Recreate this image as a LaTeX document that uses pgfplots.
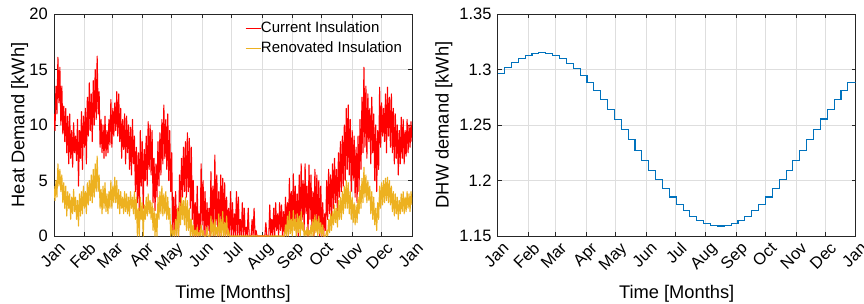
\documentclass[border=0pt]{standalone}
\usepackage{fontspec}
\setmainfont{Liberation Sans}
\usepackage{pgfplots}
\pgfplotsset{compat=1.18}
\definecolor{mred}{rgb}{1,0,0}
\definecolor{myel}{rgb}{0.929,0.694,0.125}
\definecolor{mblue}{rgb}{0,0.447,0.741}
\definecolor{axgray}{rgb}{0.15,0.15,0.15}
\pgfplotsset{
  mstyle/.style={
    scale only axis, width=358bp, height=222bp,
    xmin=0, xmax=365,
    xtick={0,31,59,90,120,151,181,212,243,273,304,334,365},
    xticklabels={Jan,Feb,Mar,Apr,May,Jun,Jul,Aug,Sep,Oct,Nov,Dec,Jan},
    tick label style={font=\fontsize{16.5bp}{18bp}\selectfont},
    /pgf/number format/assume math mode=true,
    xticklabel style={xshift=4bp, yshift=-5bp, rotate=45, anchor=north east, inner sep=0pt},
    yticklabel style={anchor=east, inner sep=0pt, xshift=-6bp},
    label style={font=\fontsize{18.3bp}{20bp}\selectfont},
    xlabel={Time [Months]},
    xlabel style={at={(axis description cs:0.5,-0.2793)}, anchor=base, inner sep=0pt},
    grid=major,
    major grid style={color=black!13, line width=0.6bp},
    tick align=inside, tick pos=both,
    major tick length=4bp,
    tick style={color=axgray, line width=0.6bp},
    axis line style={color=axgray, line width=0.6bp},
  }
}
\begin{document}
\begin{tikzpicture}
\useasboundingbox (-54bp,-68bp) rectangle (810bp,236bp);
\begin{axis}[mstyle,
  ymin=0, ymax=20, ytick={0,5,10,15,20},
  ylabel={Heat Demand [kWh]},
  ylabel style={at={(axis description cs:-0.0718,0.5)}, anchor=south, inner sep=0pt},
  legend style={draw=none, fill=none, at={(axis description cs:0.5335,1)}, yshift=-7.7bp, anchor=north west,
    font=\fontsize{15bp}{17bp}\selectfont, inner sep=0pt, row sep=6bp,
    nodes={inner sep=0pt, text height=11bp, text depth=3bp}},
  legend cell align=left,
  legend image code/.code={\draw[#1,line width=0.8bp] (0bp,0bp) -- (15bp,0bp);},
]
\addplot[draw=mred, color=mred, line width=1.1bp, line join=round] coordinates {
(0,11)(1,9.5)(2,13.5)(3,11)(4,16.1)(5,12)(6,15.2)(7,10)(8,13.5)(9,9.2)(10,11.7)(11,8.5)(12,11.5)(13,7.5)(14,10.8)(15,6.5)(16,11)(17,7)(18,9.5)(19,6.2)(20,10.2)(21,7.5)(22,9)(23,6.8)(24,10.5)(25,4.5)(26,9.5)(27,7)(28,11.2)(29,6)(30,10.8)(31,8)(32,11.5)(33,6.5)(34,12.5)(35,9)(36,13.8)(37,9.5)(38,12.8)(39,8.5)(40,14)(41,10)(42,15)(43,10.5)(44,16.2)(45,11)(46,13)(47,8)(48,10.5)(49,7.5)(50,10)(51,7)(52,10.8)(53,7.2)(54,9.5)(55,7.5)(56,10.5)(57,8.2)(58,12.3)(59,8)(60,11.5)(61,9)(62,12)(63,9.5)(64,13)(65,9)(66,12.8)(67,8.5)(68,11.5)(69,7)(70,10.5)(71,7.8)(72,11)(73,6.5)(74,10.8)(75,7.5)(76,10)(77,6)(78,9.8)(79,5.5)(80,10.5)(81,6.5)(82,9)(83,4)(84,8)(85,3)(86,7.5)(87,2)(88,9.5)(89,4.5)(90,8.5)(91,2.5)(92,7.8)(93,5)(94,9)(95,4.5)(96,10.3)(97,6)(98,10)(99,5.5)(100,9.5)(101,3)(102,7)(103,2.3)(104,6.5)(105,3.5)(106,8.5)(107,4.5)(108,9.3)(109,5.5)(110,10.5)(111,6.5)(112,11.8)(113,7)(114,10.5)(115,6)(116,11)(117,5)(118,9.5)(119,4)(120,7.5)(121,0.5)(122,3.5)(123,0)(124,4)(125,0.5)(126,2.5)(127,0)(128,5.5)(129,2)(130,7)(131,3.5)(132,8)(133,4)(134,8.5)(135,3.5)(136,9.3)(137,4)(138,8.8)(139,2.5)(140,8)(141,1.5)(142,5)(143,0)(144,3)(145,0)(146,4.5)(147,0)(148,2)(149,0)(150,6.5)(151,1)(152,5)(153,0)(154,4)(155,0)(156,3)(157,0.5)(158,2.5)(159,0)(160,5.8)(161,0.5)(162,4.5)(163,0)(164,7.3)(165,1)(166,5.5)(167,0)(168,4)(169,0)(170,5.5)(171,1)(172,5.2)(173,0)(174,4.8)(175,0)(176,3.5)(177,0)(178,2.5)(179,0)(180,4)(181,0)(182,3)(183,0)(184,2)(185,0)(186,4)(187,0)(188,3.5)(189,0)(190,1.5)(191,0)(192,3)(193,0)(194,2.5)(195,0)(196,0.8)(197,0)(198,2.5)(199,0)(200,0)(201,0)(202,1.5)(203,0)(204,2.5)(205,0)(206,0.5)(207,0)(215,0)(216,1.2)(217,0)(219,0)(220,2.8)(221,0)(222,1.5)(223,0)(224,2.5)(225,0)(226,3)(227,0.5)(228,2)(229,0)(230,3)(231,0.5)(232,2.8)(233,0)(234,2.2)(235,0)(236,3.5)(237,0.5)(238,3)(239,0)(240,5.2)(241,1)(242,4)(243,0.5)(244,5.6)(245,1.5)(246,4.5)(247,0.5)(248,3.8)(249,0)(250,5.5)(251,1)(252,6.5)(253,1.5)(254,5)(255,0.5)(256,6.5)(257,2)(258,4.5)(259,0)(260,6.4)(261,1.5)(262,5.5)(263,0.5)(264,4)(265,0)(266,6)(267,1)(268,5.5)(269,0.5)(270,5)(271,0)(272,4.5)(273,0)(274,3)(275,0)(276,2)(277,0.5)(278,5)(279,1.5)(280,6)(281,2)(282,5.5)(283,1.5)(284,6.5)(285,2.5)(286,7)(287,3)(288,6)(289,2)(290,7.5)(291,3.5)(292,8.5)(293,4)(294,9)(295,4.5)(296,10)(297,5)(298,11.5)(299,6)(300,11.8)(301,5.5)(302,10.5)(303,4)(304,9.5)(305,5)(306,9)(307,3.5)(308,8)(309,3)(310,9)(311,4)(312,10.5)(313,6)(314,12.5)(315,7.5)(316,15.2)(317,8)(318,13.5)(319,7)(320,12.8)(321,8.5)(322,11.5)(323,6.5)(324,12.5)(325,7.5)(326,11)(327,5)(328,10)(329,4)(330,9.5)(331,6)(332,13.4)(333,8)(334,12)(335,9)(336,11.5)(337,8.5)(338,12.8)(339,7.5)(340,13.4)(341,9)(342,12.5)(343,8)(344,12.8)(345,7.5)(346,11.5)(347,6.5)(348,11)(349,7)(350,10)(351,5.5)(352,9.5)(353,6.5)(354,10.7)(355,7)(356,10.5)(357,6.5)(358,9.5)(359,7.2)(360,10.5)(361,7.5)(362,10)(363,8)(364,10.3)(365,8.5)
};
\addlegendentry{Current Insulation}
\addplot[draw=myel, color=myel, line width=1.1bp, line join=round] coordinates {
(0,4.5)(1,3.2)(2,5)(3,3.5)(4,6.5)(5,4.5)(6,6)(7,4)(8,5.5)(9,3)(10,4.8)(11,2.5)(12,4.5)(13,1.8)(14,4)(15,2.5)(16,3.8)(17,1.5)(18,3.5)(19,2)(20,4.2)(21,2.2)(22,3.5)(23,1.5)(24,3.2)(25,0.9)(26,3.8)(27,1.8)(28,4)(29,2)(30,4.5)(31,2.5)(32,4)(33,2)(34,4.8)(35,2.8)(36,5)(37,3.2)(38,5.5)(39,3)(40,6)(41,3.5)(42,6.5)(43,4)(44,7.2)(45,4)(46,5.5)(47,2.5)(48,4.2)(49,2)(50,4.5)(51,2.5)(52,4.8)(53,2.2)(54,3.8)(55,2)(56,4)(57,2.5)(58,5)(59,2.5)(60,4.5)(61,3)(62,5.3)(63,3)(64,5)(65,2.5)(66,4.2)(67,2)(68,4)(69,2.5)(70,3.5)(71,2)(72,4)(73,2.2)(74,3.8)(75,2)(76,3.5)(77,1.8)(78,4)(79,2.5)(80,3.5)(81,2)(82,4)(83,1.5)(84,3.5)(85,0)(86,2.5)(87,0)(88,3.5)(89,1.5)(90,3)(91,0)(92,2.8)(93,1.5)(94,3.5)(95,1.8)(96,3.8)(97,2)(98,3.2)(99,1.5)(100,3)(101,0.5)(102,2.5)(103,0)(104,2)(105,0)(106,3.5)(107,1.5)(108,4)(109,2)(110,4.5)(111,1.8)(112,3.8)(113,2)(114,4)(115,1.5)(116,3.5)(117,1.5)(118,2.5)(119,0)(120,1)(121,0)(122,0.5)(123,0)(124,1.5)(125,0)(126,2.5)(127,0)(128,3)(129,1)(130,3.5)(131,1.5)(132,3.2)(133,1)(134,3.5)(135,0.5)(136,3.2)(137,0.5)(138,2.5)(139,0)(140,1.5)(141,0)(142,1)(143,0)(144,0.5)(145,0)(146,0.8)(147,0)(148,0.3)(149,0)(150,1)(151,0)(152,0.5)(153,0)(155,0)(156,0.8)(157,0)(159,0)(160,1.8)(161,0)(162,1.2)(163,0)(164,1.5)(165,0)(166,0.8)(167,0)(168,2)(169,0)(170,1.5)(171,0)(172,2.2)(173,0)(174,1.2)(175,0)(176,1.8)(177,0)(178,0.5)(179,0)(235,0)(236,1)(237,0)(238,1.8)(239,0)(240,2.2)(241,0.2)(242,1.5)(243,0)(244,2.3)(245,0.5)(246,1.5)(247,0)(248,2)(249,0.3)(250,1.8)(251,0)(252,2.2)(253,0.5)(254,1.2)(255,0)(256,0.5)(257,0)(258,0.8)(259,0)(260,0.5)(261,0)(262,1)(263,0)(264,1.5)(265,0)(266,1.9)(267,0.3)(268,1.5)(269,0)(270,1.8)(271,0.2)(272,1.2)(273,0)(274,1)(275,0)(277,0)(278,0.5)(279,0)(280,1.5)(281,0.3)(282,2)(283,0.5)(284,2.2)(285,1)(286,2.8)(287,1.2)(288,2.5)(289,0.8)(290,3.2)(291,1.5)(292,3.5)(293,1.5)(294,4)(295,2)(296,4.5)(297,2.5)(298,5)(299,2.5)(300,4.8)(301,2)(302,4)(303,1.5)(304,3.5)(305,1.2)(306,3)(307,1)(308,2.8)(309,1.2)(310,3.5)(311,2)(312,4.5)(313,2.5)(314,5.2)(315,3)(316,6.2)(317,3.5)(318,5.5)(319,3)(320,5)(321,3.2)(322,4.5)(323,2)(324,4)(325,1.5)(326,3.5)(327,1)(328,2.5)(329,0.5)(330,3)(331,1.5)(332,4.5)(333,2.5)(334,4.8)(335,2.8)(336,5)(337,3)(338,5.2)(339,3.2)(340,5.3)(341,3)(342,5)(343,2.8)(344,4.5)(345,2.2)(346,4)(347,1.8)(348,3.8)(349,2)(350,3.5)(351,1.5)(352,3.2)(353,2)(354,3.8)(355,2.2)(356,4)(357,2)(358,3.5)(359,2.2)(360,4)(361,2.5)(362,3.8)(363,2.2)(364,4)(365,2.8)
};
\addlegendentry{Renovated Insulation}
\end{axis}
\begin{axis}[mstyle, at={(443.7bp,0)}, anchor=south west,
  ymin=1.15, ymax=1.35, ytick={1.15,1.2,1.25,1.3,1.35},
  ylabel={DHW demand [kWh]},
  ylabel style={at={(axis description cs:-0.1257,0.5)}, anchor=south, inner sep=0pt},
]
\addplot[draw=mblue, color=mblue, line width=1.1bp, const plot mark left] coordinates {
(0,1.296)(7,1.3016)(14,1.3064)(21,1.3102)(28,1.3129)(35,1.3145)(42,1.315)(49,1.3144)(56,1.3126)(63,1.3097)(70,1.3058)(77,1.3009)(84,1.295)(91,1.2884)(98,1.2809)(105,1.2728)(112,1.2643)(119,1.2553)(126,1.246)(133,1.2367)(140,1.2273)(147,1.2181)(154,1.2091)(161,1.2005)(168,1.1925)(175,1.1851)(182,1.1785)(189,1.1727)(196,1.1678)(203,1.164)(210,1.1612)(217,1.1595)(224,1.159)(231,1.1596)(238,1.1613)(245,1.164)(252,1.1679)(259,1.1727)(266,1.1785)(273,1.1851)(280,1.1925)(287,1.2006)(294,1.2092)(301,1.2181)(308,1.2274)(315,1.2368)(322,1.2461)(329,1.2554)(336,1.2643)(343,1.2729)(350,1.281)(357,1.2884)(365,1.2884)
};
\end{axis}
\end{tikzpicture}
\end{document}
